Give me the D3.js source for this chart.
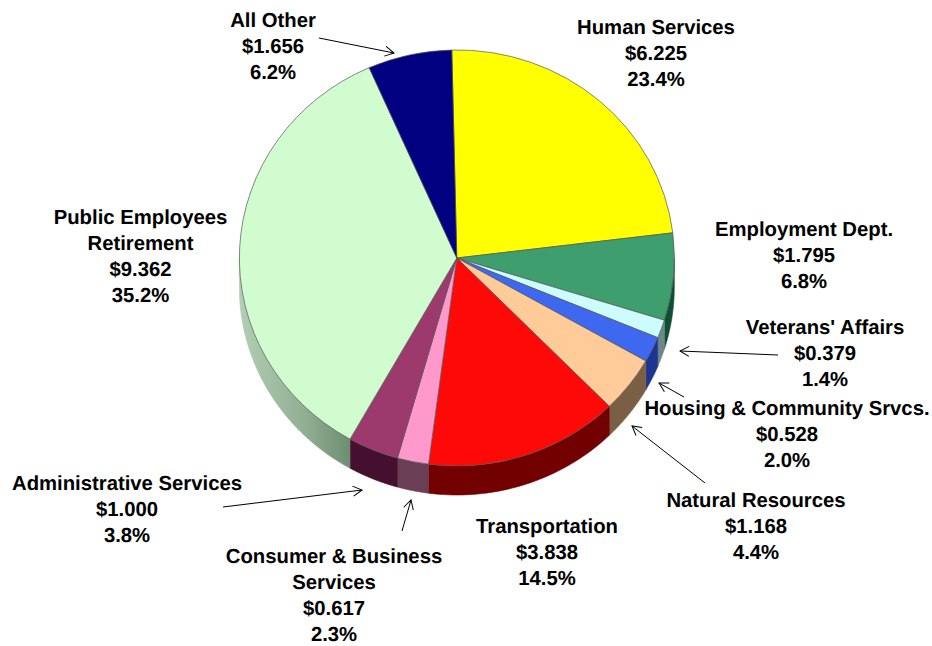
<!DOCTYPE html>
<html><head><meta charset="utf-8">
<script src="https://cdn.jsdelivr.net/npm/d3@7"></script>
<style>html,body{margin:0;padding:0;background:#fff}svg{display:block}
text{font-family:"Liberation Sans",Arial,sans-serif;font-weight:700;font-size:20.3px;fill:#000;text-anchor:middle;text-rendering:geometricPrecision}</style>
</head><body><svg id="c" width="932" height="646"></svg>
<script>
const categories=["Human Services","Employment Dept.","Veterans' Affairs","Housing & Community Srvcs.","Natural Resources","Transportation","Consumer & Business Services","Administrative Services","Public Employees Retirement","All Other"];
const values=[6.225,1.795,0.379,0.528,1.168,3.838,0.617,1.000,9.362,1.656];
const percents=["23.4%","6.8%","1.4%","2.0%","4.4%","14.5%","2.3%","3.8%","35.2%","6.2%"];

const topColors=["#ffff00","#3f9e6e","#ccfcfc","#3f68f0","#ffcc99","#ff0808","#ff99cc","#9c3a6e","#d0fcd0","#000080"];
const wallColors=["#8a8a00","#0f4f34","#70878a","#1c3590","#7a5f45","#730000","#6a3f55","#451030","url(#wallGreen)","#00004a"];
const labelLayout=[
 {x:656,y:33.5,lines:["Human Services"]},
 {x:804,y:236,lines:["Employment Dept."]},
 {x:825,y:334,lines:["Veterans' Affairs"]},
 {x:787,y:415,lines:["Housing & Community Srvcs."]},
 {x:756,y:507,lines:["Natural Resources"]},
 {x:547,y:533,lines:["Transportation"]},
 {x:334,y:562.8,lines:["Consumer & Business","Services"]},
 {x:127,y:489.5,lines:["Administrative Services"]},
 {x:140.5,y:223.5,lines:["Public Employees","Retirement"]},
 {x:273,y:27,lines:["All Other"]}
];
const leaders=[[319,38,394,53],[778,355,680,351],[684,397,659,383],[705,483,632,426],[223,507,362,490],[402,531,411,500]];

const cx=456.8,cy=258,rx=217.5,ry=208,depth=29,startDeg=-1.3,lineStep=26.2;
const svg=d3.select("#c");
const defs=svg.append("defs");
const g=defs.append("linearGradient").attr("id","wallGreen").attr("gradientUnits","userSpaceOnUse")
 .attr("x1",240).attr("x2",350).attr("y1",0).attr("y2",0);
g.append("stop").attr("offset",0).attr("stop-color","#b2ceb4");
g.append("stop").attr("offset",.6).attr("stop-color","#8fae92");
g.append("stop").attr("offset",1).attr("stop-color","#6e8e72");
const m=defs.append("marker").attr("id","arr").attr("viewBox","-10 -6 11 12").attr("refX",0).attr("refY",0)
 .attr("markerWidth",11).attr("markerHeight",12).attr("markerUnits","userSpaceOnUse").attr("orient","auto");
m.append("path").attr("d","M-9,-5L0,0L-9,5").attr("fill","none").attr("stroke","#000").attr("stroke-width",1);

const start=startDeg*Math.PI/180;
const pie=d3.pie().sort(null).startAngle(start).endAngle(start+2*Math.PI);
const arcs=pie(values);
const px=a=>cx+rx*Math.sin(a), py=a=>cy-ry*Math.cos(a);
const line=d3.line();
arcs.forEach((d,i)=>{
 const a0=Math.max(d.startAngle,Math.PI/2),a1=Math.min(d.endAngle,3*Math.PI/2);
 if(a1<=a0)return;
 const ang=d3.range(0,41).map(k=>a0+(a1-a0)*k/40);
 const pts=ang.map(a=>[px(a),py(a)]).concat(ang.slice().reverse().map(a=>[px(a),py(a)+depth]));
 svg.append("path").attr("d",line(pts)+"Z").attr("fill",wallColors[i])
  .attr("stroke",wallColors[i]).attr("stroke-width",0.6);
});
const arc=d3.arc().innerRadius(0).outerRadius(1);
svg.append("g").attr("transform",`translate(${cx},${cy}) scale(${rx},${ry})`)
 .selectAll("path").data(arcs).join("path").attr("d",arc)
 .attr("fill",(d,i)=>topColors[i]).attr("stroke","#555").attr("stroke-opacity",.7)
 .attr("stroke-width",1).attr("vector-effect","non-scaling-stroke");
svg.append("g").selectAll("line").data(leaders).join("line")
 .attr("x1",d=>d[0]).attr("y1",d=>d[1]).attr("x2",d=>d[2]).attr("y2",d=>d[3])
 .attr("stroke","#000").attr("stroke-width",1).attr("marker-end","url(#arr)");
categories.forEach((c,i)=>{
 const l=labelLayout[i];
 const t=svg.append("text");
 l.lines.concat(["$"+values[i].toFixed(3),percents[i]]).forEach((s,k)=>{
  t.append("tspan").attr("x",l.x).attr("y",l.y+k*lineStep).text(s);
 });
});
</script></body></html>
